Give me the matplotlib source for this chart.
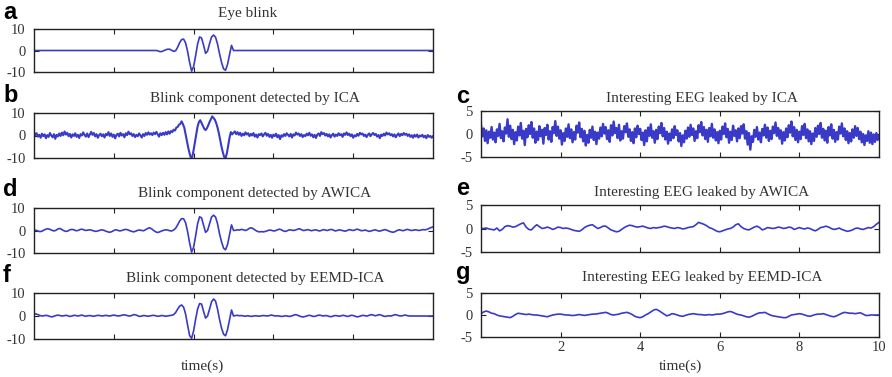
import numpy as np
import matplotlib
matplotlib.use("Agg")
import matplotlib.pyplot as plt

plt.rcParams['axes.unicode_minus'] = False

# eye blink template, sampled every 0.05 s from 3.0 s to 5.0 s (zero elsewhere)
blink_start, blink_end = 3.0, 5.0
eye_blink = [0.0, 0.0, -0.1, -0.5, -0.5, -0.1, 0.3, 0.6, 0.6, 0.1,
             -0.4, -0.1, 1.5, 3.6, 5.1, 5.3, 3.5, -0.5, -5.5, -9.6,
             -7.5, -2.5, 3.0, 6.3, 5.8, 2.5, -1.3, -0.3, 3.2, 6.3,
             7.2, 6.2, 3.0, -1.5, -5.5, -8.5, -9.2, -6.5, -2.0, 2.4,
             0.0]

# blink component found by ICA (301 samples over 10 s)
ica_blink = [1.5, 0.2, 1.0, -0.5, 0.3, -1.0, 0.8, -0.3, 0.5, -1.2,
             0.2, -0.6, 1.1, 0.0, -0.8, 0.6, -1.5, 0.3, -0.4, 0.9,
             -0.2, 1.3, 0.1, 1.8, 0.4, 1.2, -0.3, 0.7, -0.9, 0.5,
             -0.2, 1.0, -0.6, 0.3, -1.1, 0.6, 0.0, 1.4, 0.2, -0.5,
             0.9, -0.7, 0.4, 1.6, 0.3, 1.1, -0.4, 0.6, -1.0, 0.2,
             0.8, -0.3, 0.5, -0.9, 0.7, 0.1, 1.5, -0.2, 0.9, -0.6,
             0.4, -1.3, 0.3, 0.8, -0.4, 1.2, 0.0, 0.6, -0.8, 1.0,
             0.2, 1.7, 0.5, 1.0, -0.2, 0.6, -0.7, 0.3, -0.3, 0.9,
             0.1, -0.9, 0.6, -0.2, 1.1, 0.3, 1.4, 0.4, 1.0, 0.2,
             1.3, 0.6, 1.6,
             0.5, -0.5, 1.0, 0.2, 1.2, 0.3, 1.5, 0.5, 1.8, 0.8,
             2.0, 1.5, 2.6, 2.2, 3.5, 3.8, 4.8, 5.2, 6.3, 5.0,
             3.5, 0.5, -2.5, -5.5, -8.0, -10.0, -9.5, -6.5, -3.0, 0.5,
             4.0, 6.0, 6.8, 5.5, 4.2, 3.0, 2.4, 3.2, 4.5, 6.0,
             7.2, 8.5, 7.8, 7.0, 5.5, 3.5, 1.0, -2.0, -5.0, -7.5,
             -9.5, -10.0, -8.0, -4.5, -1.0, 1.5, 0.5, 1.2,
             1.8, 0.6, 1.5, 0.3, 1.2, -0.2, 0.8, 0.1, 1.4, 0.4,
             1.0, -0.3, 0.7, 0.0, 1.1, -0.5, 0.4, -0.9, 0.6, 0.2,
             0.9, -0.4, 0.5, 1.2, -0.1, 0.7, -0.6, 0.3, -1.0, 0.4,
             -0.3, 0.8, -0.8, 0.2, -1.6, 0.1, -0.5, 0.6, -0.2, 1.0,
             0.3, -0.4, 0.7, -0.9, 0.5, 0.0, 1.3, 0.4, 0.9, -0.2,
             0.6, -0.7, 0.2, -0.3, 0.8, 0.1, 1.2, -0.1, 0.5, -0.8,
             0.3, -1.1, 0.4, 0.9, -0.2, 1.5, 0.6, 1.1, 0.0, 0.7,
             -0.4, 0.5, -0.9, 0.2, 0.8, -0.5, 0.4, -0.2, 1.0, 0.1,
             0.6, -0.6, 0.9, 0.3, 1.4, 0.2, 0.8, -0.3, 0.5, -1.0,
             0.1, -0.4, 0.7, -0.1, 1.2, 0.5, 0.9, -0.2, 0.4, -0.7,
             0.3, 0.9, -0.3, 0.6, 1.1, 0.2, 0.7, -0.5, 0.2, -1.2,
             0.4, -0.2, 0.8, 0.0, 1.3, 0.5, 1.0, 0.1, 0.6, -0.4,
             0.5, -0.8, 0.2, 0.9, -0.3, 0.7, 0.1, 1.1, 0.3, 0.8,
             -0.2, 0.5, -0.6, 0.1, -1.0, 0.3, -0.5, 0.4, -0.9, 0.0,
             -0.4, 0.3, -0.8, -0.1, -1.2, 0.2, -0.6, -0.2, -1.0, -0.3]

# blink component found by AWICA (201 samples)
awica_blink = [0.0, 0.1, -0.2, -0.5, -0.3, 0.2, 0.6, 0.8, 0.5, 0.1,
               -0.2, 0.1, 0.7, 0.9, 0.4, -0.1, -0.4, -0.2, 0.3, 0.5,
               0.3, -0.1, 0.0, 0.4, 0.6, 0.3, 0.0, 0.2, 0.3, 0.1,
               -0.2, -0.4, -0.2, 0.1, 0.3, 0.1, -0.3, -0.6, -0.8, -0.5,
               0.0, 0.3, 0.1, -0.2, 0.0, 0.3, 0.5, 0.3, -0.1, -0.4,
               -0.6, -0.3, 0.1, 0.2, 0.0, -0.1, 0.4, 0.9, 1.2, 0.7,
               0.0, -0.6, -0.9, -0.6, -0.2, 0.1, 0.3, 0.2, -0.1, -0.2,
               0.2, 1.0, 2.5, 4.2, 5.3, 5.2, 3.4, -0.5, -5.5, -9.6,
               -7.5, -2.5, 3.0, 6.1, 5.6, 2.3, -0.8, 0.0, 3.0, 6.0,
               6.8, 6.0, 3.0, -1.5, -5.0, -7.8, -8.6, -6.3, -2.0, 2.5,
               0.0, 0.1, 0.3, 0.2, 0.5, 0.3, 0.0, 0.4, 1.0, 1.2,
               0.7, 0.1, -0.4, -0.6, -0.5, -0.6, -0.4, -0.1, 0.2, 0.1,
               -0.2, -0.1, 0.3, 0.6, 0.3, -0.2, -0.4, -0.1, 0.3, 0.2,
               0.0, 0.2, 0.5, 0.8, 0.4, 0.0, 0.1, 0.4, 0.2, -0.1,
               0.1, 0.3, 0.1, -0.2, 0.0, 0.4, 0.2, 0.0, 0.3, 0.5,
               0.2, -0.2, 0.0, 0.3, 0.1, -0.1, -0.3, 0.0, 0.4, 0.2,
               0.0, 0.3, 0.6, 0.3, -0.1, 0.0, 0.2, -0.1, -0.4, -0.2,
               0.1, 0.3, 0.0, -0.3, -0.1, 0.2, 0.4, 0.1, -0.3, -0.6,
               -0.8, -0.5, 0.0, 0.3, 0.1, -0.1, 0.2, 0.5, 0.3, 0.0,
               0.1, 0.3, 0.2, 0.0, 0.2, 0.4, 0.3, 0.5, 0.9, 1.3,
               1.6]

# blink component found by EEMD-ICA (201 samples)
eemd_blink = [0.8, 0.9, 0.6, 0.2, 0.0, 0.1, 0.3, 0.1, -0.2, -0.4,
              -0.1, 0.2, 0.4, 0.2, 0.0, 0.1, 0.3, 0.1, -0.2, 0.0,
              0.3, 0.2, 0.0, 0.2, 0.4, 0.1, -0.1, 0.1, 0.2, 0.0,
              -0.1, 0.1, 0.3, 0.2, 0.0, 0.1, 0.3, 0.1, 0.0, 0.2,
              0.4, 0.2, 0.0, 0.1, 0.3, 0.5, 0.4, 0.1, 0.0, 0.2,
              0.6, 0.5, 0.1, -0.2, 0.0, 0.2, 0.1, -0.1, 0.0, 0.2,
              0.3, 0.1, -0.1, 0.0, 0.2, 0.1, -0.1, 0.0, 0.2, 0.3,
              0.6, 1.5, 3.0, 4.3, 4.8, 3.8, 0.8, -4.0, -8.5, -9.7,
              -6.5, -1.5, 3.0, 5.4, 5.2, 2.0, -0.9, 0.0, 3.0, 6.2,
              7.4, 6.5, 3.0, -1.5, -5.2, -7.9, -8.6, -6.0, -1.8, 2.6,
              0.0, 0.2, 0.3, 0.1, 0.2, 0.0, -0.1, 0.1, 0.0, -0.2,
              0.0, 0.1, 0.0, -0.1, 0.1, 0.2, 0.1, 0.0, 0.2, 0.4,
              0.2, 0.0, 0.1, 0.0, -0.2, -0.1, 0.1, 0.0, -0.2, 0.0,
              0.3, 0.6, 0.4, 0.0, -0.3, -0.4, -0.2, 0.1, 0.3, 0.1,
              -0.2, -0.1, 0.2, 0.4, 0.2, 0.0, 0.2, 0.1, -0.2, -0.3,
              0.0, 0.2, 0.1, -0.1, 0.1, 0.3, 0.1, -0.2, 0.0, 0.3,
              0.2, -0.1, -0.4, -0.2, 0.1, 0.3, 0.1, 0.0, 0.3, 0.6,
              0.4, 0.1, 0.3, 0.6, 0.4, 0.0, -0.2, 0.0, 0.1, 0.0,
              0.3, 0.6, 0.4, 0.1, 0.0, 0.2, 0.4, 0.2, 0.0, 0.0,
              0.0, 0.0, 0.0, 0.0, 0.0, 0.0, 0.0, 0.0, 0.0, 0.0,
              0.0]

# EEG leaked into the ICA blink component (301 samples)
ica_leak = [2.0, -0.5, 1.2, -1.5, 0.8, -2.0, 0.5, -0.8, 1.5, -1.2,
            0.3, -1.8, 1.0, -0.4, 2.2, -0.9, 0.6, -1.6, 1.4, 0.1,
            3.2, -0.6, 1.8, -1.1, 0.9, -2.2, 0.4, -1.4, 1.6, -0.3,
            2.4, -1.0, 0.7, -2.4, 1.1, -0.7, 1.9, 0.0, 2.6, -0.8,
            1.2, -1.9, 0.5, -1.3, 1.7, -0.5, 0.9, -2.1, 1.3, -0.2,
            2.0, -1.2, 0.6, -1.7, 1.5, 0.2, 2.8, -0.4, 1.6, -1.0,
            0.8, -2.3, 0.2, -1.5, 1.2, -0.6, 2.1, -0.9, 1.0, -1.8,
            0.4, -1.2, 1.8, 0.3, 2.5, -0.7, 1.1, -1.6, 0.7, -2.5,
            -0.2, -1.9, 0.9, -0.8, 1.6, -1.3, 0.5, -2.2, 0.3, -1.0,
            1.4, -0.5, 2.2, 0.1, 1.5, -1.1, 0.8, -1.7, 1.9, -0.3,
            2.7, 0.2, 1.3, -0.9, 2.0, -1.4, 0.6, -1.0, 1.7, 0.4,
            2.3, -0.6, 1.0, -1.5, 0.4, -2.0, 1.2, -0.7, 1.8, 0.0,
            1.1, -1.3, 0.3, -2.4, 0.8, -1.6, 1.4, -0.4, 2.1, -0.8,
            0.6, -1.9, 0.9, -1.1, 1.6, 0.2, 2.4, -0.5, 1.3, -1.2,
            0.5, -2.1, 0.1, -1.4, 1.0, -0.9, 1.7, -0.2, 0.8, -1.6,
            0.2, -2.6, -0.3, -1.8, 0.7, -1.0, 1.4, -0.6, 2.0, -0.2,
            1.2, -1.5, 0.6, -0.9, 1.9, 0.4, 2.6, -0.3, 1.5, -1.1,
            0.9, -1.7, 1.3, -0.5, 2.2, -0.8, 1.0, -1.4, 0.4, -2.0,
            0.7, -1.2, 1.6, 0.0, 2.3, -0.7, 1.1, -1.9, 0.5, -1.3,
            1.8, -0.4, 0.8, -1.6, 1.2, -0.9, 1.7, 0.1, 2.1, -1.0,
            0.6, -2.3, 0.2, -3.4, -0.5, -1.7, 0.9, -0.6, 1.5, -1.2,
            0.3, -1.8, 1.1, -0.3, 2.0, -0.8, 1.4, -1.5, 0.7, -1.1,
            1.6, 0.2, 2.5, -0.4, 1.3, -1.0, 0.8, -2.1, 0.4, -1.4,
            1.2, -0.7, 1.9, 0.3, 2.7, -0.5, 1.5, -1.3, 0.9, -1.8,
            0.5, -1.1, 1.7, -0.2, 2.2, -0.9, 1.0, -1.6, 0.6, -2.2,
            0.1, -1.5, 1.3, -0.6, 1.8, 0.0, 2.4, -0.8, 1.1, -1.4,
            0.7, -1.9, 1.5, -0.3, 2.1, -1.0, 0.9, -1.7, 0.4, -1.2,
            1.6, 0.1, 2.3, -0.5, 1.2, -1.3, 0.6, -2.0, 0.2, -1.6,
            1.0, -0.8, 1.7, -0.4, 1.3, -1.1, 0.5, -1.8, 0.0, -2.4,
            -0.3, -1.5, 0.6, -1.9, 0.3, -2.2, -0.1, -1.7, 0.2, -1.3,
            -0.4]

# EEG leaked by AWICA (151 samples)
awica_leak = [0.0, 0.0, 0.1, -0.1, -0.2, -0.3, 0.1, -0.5, -0.2, 0.4,
              0.6, 0.5, 0.3, 0.4, 0.7, 1.0, 1.2, 0.3, -0.2, -0.3,
              0.3, 0.8, 0.4, 0.0, 0.1, 0.3, 0.1, -0.2, 0.0, 0.3,
              0.2, 0.0, 0.1, 0.0, -0.2, -0.4, -0.5, -0.6, -0.3, 0.2,
              0.5, 0.7, 0.8, 0.4, 0.0, 0.2, 0.5, 0.5, 0.1, -0.3,
              -0.5, -0.7, -0.6, -0.2, 0.2, 0.5, 0.7, 0.6, 0.4, 0.3,
              0.4, 0.5, 0.3, 0.1, 0.0, 0.2, 0.1, 0.2, 0.3, 0.5,
              0.4, 0.2, 0.1, 0.0, 0.2, 0.1, -0.1, 0.0, 0.2, 0.3,
              0.4, 0.8, 1.3, 1.1, 0.9, 0.6, 0.2, 0.0, -0.3, -0.6,
              -0.7, -0.5, -0.3, -0.1, 0.0, 0.3, 0.8, 1.0, 0.4, 0.0,
              -0.2, -0.3, 0.0, 0.3, 0.5, 0.2, -0.3, -0.1, 0.2, 0.1,
              0.0, 0.1, 0.3, 0.2, 0.0, 0.1, 0.3, 0.2, -0.2, 0.0,
              0.2, 0.0, -0.1, 0.1, 0.0, -0.3, -0.5, -0.2, 0.2, 0.3,
              0.5, 0.3, 0.0, -0.2, -0.1, 0.1, -0.2, -0.4, -0.6, -0.5,
              -0.3, 0.0, 0.1, -0.1, -0.2, 0.0, 0.2, 0.1, 0.4, 0.9,
              1.3]

# EEG leaked by EEMD-ICA (151 samples)
eemd_leak = [0.3, 0.7, 0.9, 0.7, 0.4, 0.3, 0.0, -0.2, -0.3, -0.4,
             -0.5, -0.6, -0.3, 0.1, 0.4, 0.3, 0.2, 0.1, 0.2, 0.1,
             0.0, 0.0, -0.1, -0.2, -0.3, -0.4, -0.2, 0.0, 0.1, 0.2,
             0.2, 0.1, 0.0, 0.0, -0.1, -0.1, 0.0, 0.1, 0.0, -0.1,
             0.0, 0.1, 0.2, 0.2, 0.3, 0.4, 0.5, 0.6, 0.4, 0.1,
             0.0, 0.1, 0.2, 0.4, 0.5, 0.6, 0.4, 0.1, -0.3, -0.5,
             -0.6, -0.4, 0.0, 0.3, 0.7, 1.1, 1.3, 1.0, 0.6, 0.2,
             -0.2, 0.0, 0.3, 0.2, 0.0, -0.2, -0.3, -0.1, 0.1, 0.2,
             0.3, 0.2, 0.1, 0.1, 0.0, 0.0, 0.1, 0.0, 0.1, 0.2,
             0.2, 0.3, 0.5, 0.7, 0.8, 0.6, 0.3, 0.1, 0.0, -0.2,
             -0.4, -0.5, -0.3, 0.0, 0.3, 0.5, 0.5, 0.6, 0.3, 0.0,
             -0.2, -0.3, -0.4, -0.5, -0.6, -0.6, -0.3, 0.0, 0.1, 0.2,
             0.3, 0.2, 0.0, -0.2, -0.3, -0.1, 0.1, 0.2, 0.2, 0.3,
             0.1, -0.1, -0.3, -0.4, -0.2, 0.1, 0.4, 0.6, 0.5, 0.4,
             0.4, 0.3, 0.4, 0.5, 0.2, -0.1, -0.1, 0.0, 0.0, 0.0,
             0.0]

titles_left = ["Eye blink", "Blink component detected by ICA",
               "Blink component detected by AWICA", "Blink component detected by EEMD-ICA"]
titles_right = ["Interesting EEG leaked by ICA", "Interesting EEG leaked by AWICA",
                "Interesting EEG leaked by EEMD-ICA"]
letters_left = ["a", "b", "d", "f"]
letters_right = ["c", "e", "g"]

W, H = 892, 377
LINE = '#3a3ac8'
SERIF = 'Liberation Serif'


def rect(l, t, r, b):
    return [l / W, 1 - b / H, (r - l) / W, (b - t) / H]


def style(ax, ylim, yticks, xlabels=False):
    ax.set_xlim(0, 10)
    ax.set_ylim(*ylim)
    ax.set_xticks([2, 4, 6, 8, 10] if xlabels else [2, 4, 6, 8])
    ax.set_yticks(yticks)
    ax.tick_params(direction='in', top=True, right=True, length=3.5, width=0.8,
                   colors='#222222', labelcolor='#333333', labelsize=10.5, pad=6)
    ax.tick_params(axis='x', pad=3)
    if not xlabels:
        ax.set_xticklabels([])
    for lab in ax.get_yticklabels() + ax.get_xticklabels():
        lab.set_fontfamily(SERIF)
    for s in ax.spines.values():
        s.set_linewidth(1.0)
        s.set_color('#222222')


fig = plt.figure(figsize=(W / 100, H / 100), dpi=100)

# left column: blink components
left_rects = [(34, 29, 433, 72), (34, 113, 433, 158), (34, 208, 433, 253), (34, 293, 433, 339)]
blink_t = np.linspace(blink_start, blink_end, len(eye_blink))
left_series = [
    (np.concatenate([[0], blink_t, [10]]), np.concatenate([[0], eye_blink, [0]])),
    (np.linspace(0, 10, len(ica_blink)), np.array(ica_blink)),
    (np.linspace(0, 10, len(awica_blink)), np.array(awica_blink)),
    (np.linspace(0, 10, len(eemd_blink)), np.array(eemd_blink)),
]
title_base_left = [17, 102, 197, 282]
letter_base_left = [19, 102, 196, 282]
for i, (r, (t, v)) in enumerate(zip(left_rects, left_series)):
    ax = fig.add_axes(rect(*r))
    ax.plot(t, v, color=LINE, lw=1.5 if i == 1 else 1.2)
    style(ax, (-10, 10), [-10, 0, 10])
    fig.text((255 if i else 248) / W, 1 - title_base_left[i] / H, titles_left[i],
             ha='center', va='baseline', fontsize=11, family=SERIF, color='#333333')
    fig.text(3 / W, 1 - letter_base_left[i] / H, letters_left[i], ha='left', va='baseline',
             fontsize=17, fontweight='bold', family='Liberation Sans', color='black')

# right column: leaked EEG
right_rects = [(481, 111, 879, 157), (481, 205, 879, 252), (481, 293, 879, 337)]
right_series = [ica_leak, awica_leak, eemd_leak]
title_base_right = [102, 196, 281]
letter_base_right = [103, 195, 279]
for i, (r, v) in enumerate(zip(right_rects, right_series)):
    ax = fig.add_axes(rect(*r))
    ax.plot(np.linspace(0, 10, len(v)), v, color=LINE, lw=1.2 if i else 1.7)
    style(ax, (-5, 5), [-5, 0, 5], xlabels=(i == 2))
    fig.text(702 / W, 1 - title_base_right[i] / H, titles_right[i],
             ha='center', va='baseline', fontsize=11, family=SERIF, color='#333333')
    fig.text(456 / W, 1 - letter_base_right[i] / H, letters_right[i], ha='left', va='baseline',
             fontsize=17, fontweight='bold', family='Liberation Sans', color='black')

fig.text(202 / W, 1 - 366 / H, "time(s)", ha='center', va='center',
         fontsize=11, family=SERIF, color='#333333')
fig.text(680 / W, 1 - 366 / H, "time(s)", ha='center', va='center',
         fontsize=11, family=SERIF, color='#333333')

fig.savefig("out.png", dpi=100)
